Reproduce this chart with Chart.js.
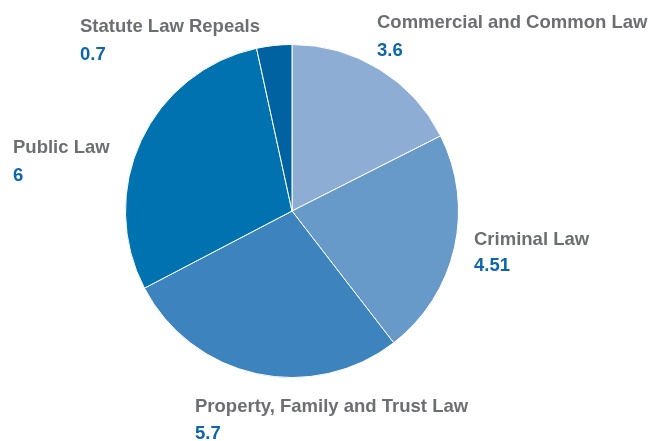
<!DOCTYPE html>
<html>
<head>
<meta charset="utf-8">
<script src="https://cdn.jsdelivr.net/npm/chart.js@4"></script>
<style>
  html, body { margin: 0; padding: 0; background: #fff; }
  #wrap { width: 648px; height: 441px; }
</style>
</head>
<body>
<div id="wrap"><canvas id="pieChart" width="648" height="441"></canvas></div>
<script>
// data
const categories = ['Commercial and Common Law', 'Criminal Law', 'Property, Family and Trust Law', 'Public Law', 'Statute Law Repeals'];
const values = [3.6, 4.51, 5.7, 6, 0.7];
const valueLabels = ['3.6', '4.51', '5.7', '6', '0.7'];

const sliceColors = ['#8eadd5', '#6799c9', '#3d84bf', '#0072b0', '#0062a0'];

// where each outside label sits (left x, name baseline, value baseline)
const labelSpots = [
  { x: 377, y1: 28, y2: 56 },
  { x: 474, y1: 245, y2: 271 },
  { x: 195, y1: 412, y2: 439 },
  { x: 13, y1: 153, y2: 181 },
  { x: 80, y1: 32, y2: 60 }
];

const outsideLabels = {
  id: 'outsideLabels',
  afterDraw(chart) {
    const ctx = chart.ctx;
    ctx.save();
    ctx.font = 'bold 18.5px "Liberation Sans", Arial, sans-serif';
    ctx.textAlign = 'left';
    ctx.textBaseline = 'alphabetic';
    chart.data.labels.forEach((name, i) => {
      const s = labelSpots[i];
      ctx.fillStyle = '#6d6e71';
      ctx.fillText(name, s.x, s.y1);
      ctx.fillStyle = '#0b66aa';
      ctx.fillText(valueLabels[i], s.x, s.y2);
    });
    ctx.restore();
  }
};

const ctx = document.getElementById('pieChart');
const chart = new Chart(ctx, {
  type: 'pie',
  data: {
    labels: categories,
    datasets: [{
      data: values,
      backgroundColor: sliceColors,
      borderColor: '#ffffff',
      borderWidth: 1
    }]
  },
  options: {
    responsive: false,
    animation: false,
    layout: { padding: { left: 125, right: 189, top: 44, bottom: 63 } },
    plugins: {
      legend: { display: false },
      tooltip: { enabled: false }
    }
  },
  plugins: [outsideLabels]
});
</script>
</body>
</html>
